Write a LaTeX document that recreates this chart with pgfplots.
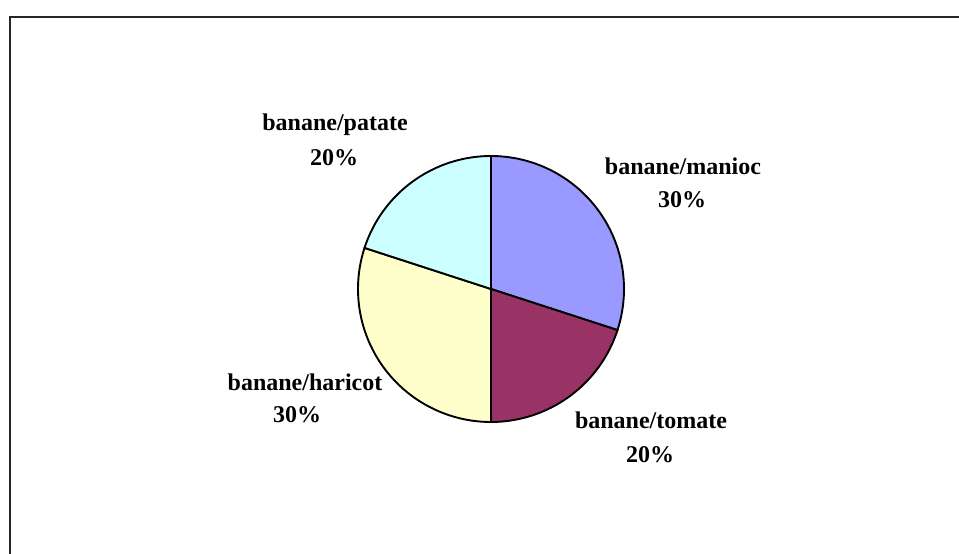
\documentclass[border=0pt]{standalone}
\usepackage{pgfplots}
\pgfplotsset{compat=1.18}
\usepackage{pgfplotstable}
\usepackage{fontspec}
\setmainfont{Liberation Serif}
\definecolor{cmanioc}{RGB}{153,153,255}
\definecolor{ctomate}{RGB}{153,51,102}
\definecolor{charicot}{RGB}{255,255,204}
\definecolor{cpatate}{RGB}{204,255,255}
% shares in percent
\pgfplotstableread{
label value
manioc 30
tomate 20
haricot 30
patate 20
}\piedata
\pgfplotstablegetelem{0}{value}\of\piedata\let\va\pgfplotsretval
\pgfplotstablegetelem{1}{value}\of\piedata\let\vb\pgfplotsretval
\pgfplotstablegetelem{2}{value}\of\piedata\let\vc\pgfplotsretval
\pgfplotstablegetelem{3}{value}\of\piedata\let\vd\pgfplotsretval
\pgfmathsetmacro{\aA}{90}
\pgfmathsetmacro{\aB}{\aA-3.6*\va}
\pgfmathsetmacro{\aC}{\aB-3.6*\vb}
\pgfmathsetmacro{\aD}{\aC-3.6*\vc}
\pgfmathsetmacro{\aE}{\aD-3.6*\vd}
\begin{document}
\begin{tikzpicture}
\useasboundingbox (0,0) rectangle (959bp,554bp);
\begin{axis}[
  at={(0,0)}, anchor=south west,
  scale only axis, width=959bp, height=554bp,
  xmin=0, xmax=959, ymin=0, ymax=554,
  hide axis, clip=false,
]
% frame (top and left edges visible)
\addplot[draw=black!85, line width=1.8bp] coordinates {(10,-5) (10,537) (965,537)};
% slices
\addplot[fill=cmanioc, draw=black, line width=1.9bp, line join=round, domain=\aB:\aA, samples=80] ({491+133*cos(x)},{265+133*sin(x)}) -- (axis cs:491,265) -- cycle;
\addplot[fill=ctomate, draw=black, line width=1.9bp, line join=round, domain=\aC:\aB, samples=60] ({491+133*cos(x)},{265+133*sin(x)}) -- (axis cs:491,265) -- cycle;
\addplot[fill=charicot, draw=black, line width=1.9bp, line join=round, domain=\aD:\aC, samples=80] ({491+133*cos(x)},{265+133*sin(x)}) -- (axis cs:491,265) -- cycle;
\addplot[fill=cpatate, draw=black, line width=1.9bp, line join=round, domain=\aE:\aD, samples=60] ({491+133*cos(x)},{265+133*sin(x)}) -- (axis cs:491,265) -- cycle;
% labels
\tikzset{lbl/.style={font=\fontsize{24bp}{28bp}\selectfont\bfseries, inner sep=0pt}}
\node[lbl] at (axis cs:335,429) {banane/patate};
\node[lbl] at (axis cs:334,396) {20\%};
\node[lbl] at (axis cs:683,388) {banane/manioc};
\node[lbl] at (axis cs:682,354) {30\%};
\node[lbl] at (axis cs:305,172) {banane/haricot};
\node[lbl] at (axis cs:297,139) {30\%};
\node[lbl] at (axis cs:651,134) {banane/tomate};
\node[lbl] at (axis cs:650,99) {20\%};
\end{axis}
\end{tikzpicture}
\end{document}
